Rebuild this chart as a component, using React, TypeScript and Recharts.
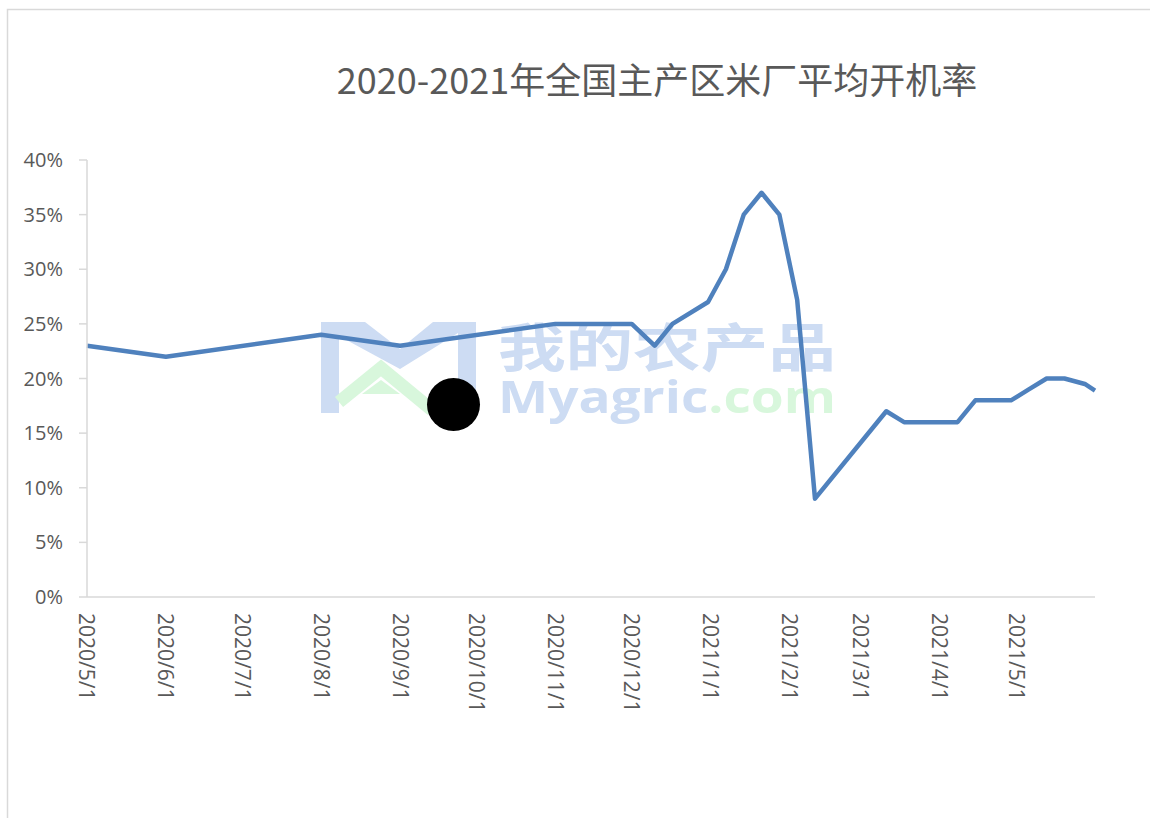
import { LineChart, Line, XAxis, YAxis } from "recharts";

const title = "2020-2021年全国主产区米厂平均开机率";

// observation dates and average operating rate (%)
const dates = [
  "2020/5/1", "2020/6/1", "2020/8/1", "2020/9/1", "2020/11/1", "2020/12/1",
  "2020/12/10", "2020/12/17", "2020/12/31", "2021/1/7", "2021/1/14", "2021/1/21",
  "2021/1/28", "2021/2/4", "2021/2/11", "2021/3/11", "2021/3/18", "2021/4/8",
  "2021/4/15", "2021/4/29", "2021/5/6", "2021/5/13", "2021/5/20", "2021/5/28", "2021/6/1",
];
const rates = [
  23, 22, 24, 23, 25, 25,
  23, 25, 27, 30, 35, 37,
  35, 27.2, 9, 17, 16, 16,
  18, 18, 19, 20, 20, 19.5, 18.9,
];

const monthTicks = [
  "2020/5/1", "2020/6/1", "2020/7/1", "2020/8/1", "2020/9/1", "2020/10/1", "2020/11/1",
  "2020/12/1", "2021/1/1", "2021/2/1", "2021/3/1", "2021/4/1", "2021/5/1",
];
const axisStart = "2020/5/1";
const axisEnd = "2021/6/1";
const yTicks = [0, 5, 10, 15, 20, 25, 30, 35, 40];

const toTs = (s: string) => {
  const [y, m, d] = s.split("/").map(Number);
  return Date.UTC(y, m - 1, d);
};
const fmtDate = (t: number) => {
  const d = new Date(t);
  return `${d.getUTCFullYear()}/${d.getUTCMonth() + 1}/${d.getUTCDate()}`;
};

const data = dates.map((d, i) => ({ t: toTs(d), rate: rates[i] }));

const GRID = "#d9d9d9";
const TEXT = "#595959";
const LINE = "#4f81bd";
const WM_BLUE = "#cddcf3";
const WM_GREEN = "#d8f7dc";

function XTick(props: any) {
  const { x, y, payload } = props;
  return (
    <text
      x={x}
      y={y}
      transform={`rotate(90 ${x} ${y})`}
      dy="0.36em"
      textAnchor="start"
      fill={TEXT}
      fontSize={21}
      fontFamily="Open Sans"
    >
      {fmtDate(payload.value)}
    </text>
  );
}

function Backdrop() {
  return (
    <svg width={1150} height={818} style={{ position: "absolute", left: 0, top: 0 }}>
      <path d="M7.5 818 V9.5 H1150" fill="none" stroke={GRID} strokeWidth={1.5} />
      <text
        x={657}
        y={94}
        textAnchor="middle"
        fill={TEXT}
        fontSize={36}
        fontFamily="Noto Sans CJK SC"
      >
        {title}
      </text>
      {/* watermark */}
      <g>
        <rect x={321} y={322} width={18} height={91} fill={WM_BLUE} />
        <rect x={458} y={322} width={18} height={91} fill={WM_BLUE} />
        <polygon
          points="339,322 365,322 400,349 433,322 458,322 458,333 400,369 339,336"
          fill={WM_BLUE}
        />
        <polyline
          points="339,402 381,368 432,410"
          fill="none"
          stroke={WM_GREEN}
          strokeWidth={13}
        />
        <polygon points="362,394 381,380 400,394" fill={WM_GREEN} />
        <text
          x={498}
          y={367}
          textLength={338}
          lengthAdjust="spacingAndGlyphs"
          fill={WM_BLUE}
          fontSize={52}
          fontWeight={700}
          fontFamily="Noto Sans CJK SC"
        >
          我的农产品
        </text>
        <text
          x={498}
          y={413}
          textLength={338}
          lengthAdjust="spacingAndGlyphs"
          fontSize={44}
          fontWeight={700}
          fontFamily="Open Sans"
        >
          <tspan fill={WM_BLUE}>Myagric</tspan>
          <tspan fill={WM_GREEN}>.com</tspan>
        </text>
      </g>
      <circle cx={453.5} cy={404.5} r={26.5} fill="#000" />
    </svg>
  );
}

export default function App() {
  return (
    <div style={{ position: "relative", width: 1150, height: 818, background: "#fff" }}>
      <style>{`body{margin:0}`}</style>
      <Backdrop />
      <div style={{ position: "absolute", left: 0, top: 0 }}>
        <LineChart
          width={1150}
          height={818}
          data={data}
          margin={{ top: 160, right: 55, left: 7, bottom: 101 }}
        >
          <XAxis
            dataKey="t"
            type="number"
            domain={[toTs(axisStart), toTs(axisEnd)]}
            ticks={monthTicks.map(toTs)}
            interval={0}
            tick={<XTick />}
            tickLine={false}
            tickSize={0}
            tickMargin={16}
            height={120}
            axisLine={{ stroke: GRID, strokeWidth: 1.5 }}
          />
          <YAxis
            domain={[0, 40]}
            ticks={yTicks}
            interval={0}
            width={80}
            tickFormatter={(v) => `${v}%`}
            tick={{ fill: TEXT, fontSize: 20, fontFamily: "Open Sans" }}
            tickSize={8}
            tickMargin={16}
            tickLine={{ stroke: GRID, strokeWidth: 1.5 }}
            axisLine={{ stroke: GRID, strokeWidth: 1.5 }}
          />
          <Line
            type="linear"
            dataKey="rate"
            stroke={LINE}
            strokeWidth={4.5}
            strokeLinejoin="round"
            dot={false}
            activeDot={false}
            isAnimationActive={false}
          />
        </LineChart>
      </div>
    </div>
  );
}
